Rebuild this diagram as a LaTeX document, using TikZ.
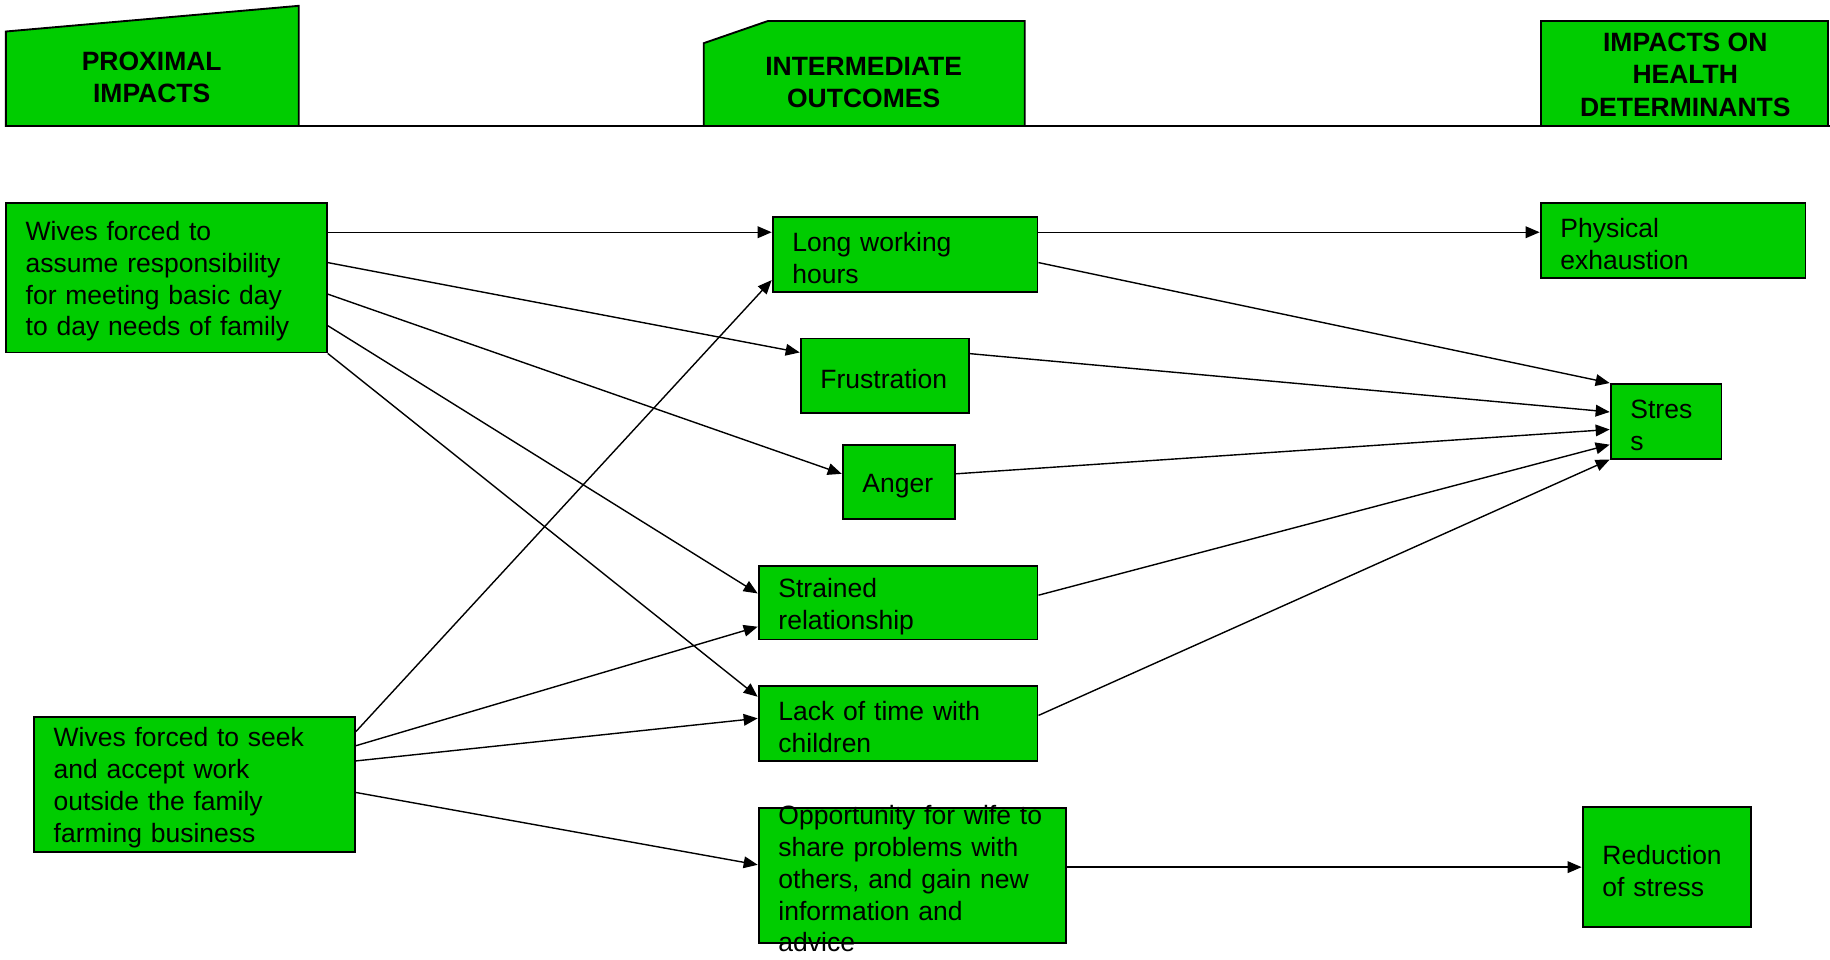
\documentclass[tikz,border=0pt]{standalone}
\usepackage{fontspec}
\setmainfont{Liberation Sans}
\usetikzlibrary{arrows.meta}
\definecolor{boxgreen}{RGB}{0,204,0}
\tikzset{
  box/.style 2 args={draw, fill=boxgreen, line width=0.8pt, align=left,
    text width=#1, minimum height=#2, inner xsep=8.5pt, inner ysep=1pt,
    font=\fontsize{11.35}{13.65}\selectfont,
    execute at begin node={\rule{0pt}{11.2pt}}},
  head/.style={align=center, font=\fontsize{11.35}{13.8}\selectfont\bfseries},
  link/.style={-{Triangle[length=6pt,width=5pt]}, line width=0.6pt}
}
\begin{document}
\begin{tikzpicture}[x=0.5pt,y=-0.5pt]
  \useasboundingbox (0,0) rectangle (1568,822);
  % column headings
  \filldraw [fill=boxgreen, line width=0.8pt] (5,27) -- (256,5) -- (256,108) -- (5,108) -- cycle;
  \filldraw [fill=boxgreen, line width=0.8pt] (603,37) -- (658,18) -- (878,18) -- (878,108) -- (603,108) -- cycle;
  \filldraw [fill=boxgreen, line width=0.8pt] (1320,18) rectangle (1566,108);
  \draw [line width=0.8pt] (5,108) -- (1568,108);
  \node [head] (proximal) at (130,66) {PROXIMAL\\IMPACTS};
  \node [head] (intermediate) at (740,71) {INTERMEDIATE\\OUTCOMES};
  \node [head] (determinants) at (1444,64) {IMPACTS ON\\HEALTH\\DETERMINANTS};

  \node [box={120.5pt}{64pt}] (basic) at (142.5,238) {Wives forced to\\assume responsibility\\for meeting basic day\\to day needs of family};
  \node [box={120.5pt}{58pt}] (work) at (166.5,672) {Wives forced to seek\\and accept work\\outside the family\\farming business};

  \node [box={96.5pt}{32pt}] (hours) at (775.5,218) {Long working\\hours};
  \node [box={55pt}{32pt}] (frust) at (758,322) {Frustration};
  \node [box={31pt}{32pt}] (anger) at (770,413) {Anger};
  \node [box={102.5pt}{31.5pt}] (strain) at (769.5,516.5) {Strained\\relationship};
  \node [box={102.5pt}{32pt}] (lack) at (769.5,620) {Lack of time with\\children};
  \node [box={114.5pt}{58pt}] (share) at (781.5,750) {};
  \node [box={114.5pt}{58pt}, draw=none, fill=none] (sharetext) at (share.center) {Opportunity for wife to\\share problems with\\others, and gain new\\information and\\advice};

  \node [box={96.5pt}{32pt}] (exhaust) at (1433.5,206) {Physical\\exhaustion};
  \node [box={30.5pt}{32pt}] (stress) at (1427.5,361) {Stres\\s};
  \node [box={55pt}{51.5pt}] (relief) at (1428,743) {Reduction\\of stress};

  \draw [link] ([yshift=19.5pt]basic.east) -- ([yshift=9.5pt]hours.west);
  \draw [link] ([yshift=6.5pt]basic.east) -- ([yshift=10pt]frust.west);
  \draw [link] ([yshift=-7pt]basic.east) -- ([yshift=3.5pt]anger.west);
  \draw [link] ([yshift=-20.5pt]basic.east) -- ([yshift=4pt]strain.west);
  \draw [link] (basic.south east) -- ([yshift=11.5pt]lack.west);
  \draw [link] ([yshift=22.5pt]work.east) -- ([yshift=-11pt]hours.west);
  \draw [link] ([yshift=16.5pt]work.east) -- ([yshift=-10.25pt]strain.west);
  \draw [link] ([yshift=10pt]work.east) -- ([yshift=2.25pt]lack.west);
  \draw [link] ([yshift=-3.5pt]work.east) -- ([yshift=4.5pt]share.west);

  \draw [link] ([yshift=9.5pt]hours.east) -- ([yshift=3.5pt]exhaust.west);
  \draw [link] ([yshift=-3.5pt]hours.east) -- (stress.north west);
  \draw [link] ([yshift=9.5pt]frust.east) -- ([yshift=4pt]stress.west);
  \draw [link] ([yshift=3.5pt]anger.east) -- ([yshift=-3.5pt]stress.west);
  \draw [link] ([yshift=3.25pt]strain.east) -- ([yshift=-10pt]stress.west);
  \draw [link] ([yshift=3.5pt]lack.east) -- (stress.south west);
  \draw [link] ([yshift=3.5pt]share.east) -- (relief.west);
\end{tikzpicture}
\end{document}
